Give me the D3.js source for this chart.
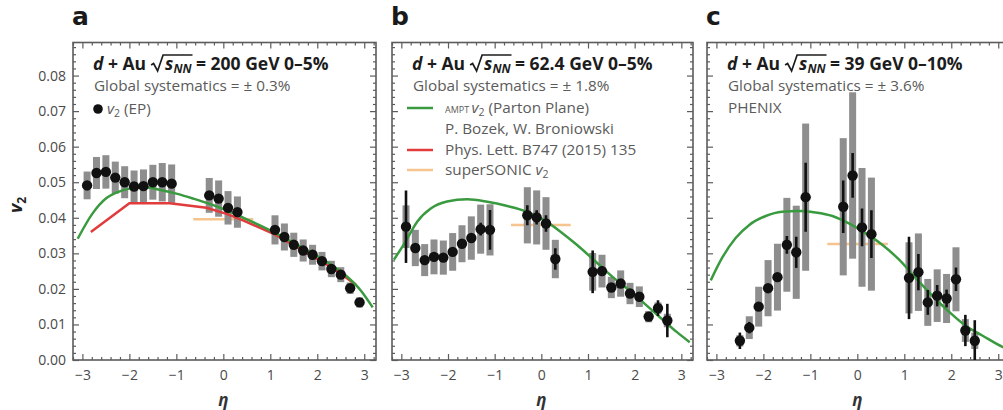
<!DOCTYPE html>
<html>
<head>
<meta charset="utf-8">
<script src="https://cdn.jsdelivr.net/npm/d3@7"></script>
<style>
  body { margin: 0; background: #fff; }
  svg { display: block; font-family: "Open Sans", "Noto Sans", sans-serif; }
</style>
</head>
<body>
<svg id="chart" width="1003" height="410"></svg>
<script>
// ---- d+Au 200 GeV, 0-5% ----
const etaA = [-2.9,-2.7,-2.5,-2.3,-2.1,-1.9,-1.7,-1.5,-1.3,-1.1,-0.3,-0.1,0.1,0.3,1.1,1.3,1.5,1.7,1.9,2.1,2.3,2.5,2.7,2.9];
const v2A = [0.0491,0.0526,0.0529,0.0513,0.0500,0.0488,0.0489,0.0500,0.0500,0.0496,0.0463,0.0454,0.0428,0.0416,0.0366,0.0346,0.0324,0.0308,0.0296,0.0278,0.0256,0.0240,0.0202,0.0162];
const statA = [0.0008,0.0008,0.0008,0.0008,0.0008,0.0008,0.0008,0.0008,0.0008,0.0008,0.0008,0.0008,0.0008,0.0008,0.0006,0.0006,0.0006,0.0006,0.0006,0.0006,0.0006,0.0006,0.0006,0.0008];
const sysA = [0.0039,0.0045,0.0047,0.0045,0.0045,0.0045,0.0047,0.0049,0.0054,0.0054,0.0049,0.0051,0.0047,0.0044,0.0041,0.0038,0.0034,0.0031,0.0028,0.0026,0.0023,0.0021,0.0016,0.0014];
const amptEtaA = [-3.1,-2.79,-2.5,-2.25,-2.0,-1.64,-1.36,-1.0,-0.64,-0.29,0.07,0.43,0.79,1.14,1.5,1.86,2.21,2.57,2.93,3.18];
const amptV2A = [0.0341,0.0411,0.0454,0.0472,0.0482,0.0485,0.0479,0.0468,0.0454,0.0439,0.0421,0.0400,0.0378,0.0355,0.0329,0.0303,0.0275,0.0242,0.0195,0.0148];
const bozekEtaA = [-2.82,-2.0,-1.14,-0.36,0.07,0.43,1.07,1.5,1.93,2.36,2.82];
const bozekV2A = [0.0360,0.0441,0.0441,0.0428,0.0411,0.0392,0.0355,0.0322,0.0289,0.0256,0.0212];
const sonicEtaA = [-0.64,0.64];
const sonicV2A = [0.0396,0.0396];

// ---- d+Au 62.4 GeV, 0-5% ----
const etaB = [-2.9,-2.7,-2.5,-2.3,-2.1,-1.9,-1.7,-1.5,-1.3,-1.1,-0.3,-0.1,0.1,0.3,1.1,1.3,1.5,1.7,1.9,2.1,2.3,2.5,2.7];
const v2B = [0.0375,0.0315,0.0281,0.0290,0.0288,0.0304,0.0327,0.0343,0.0368,0.0366,0.0407,0.0401,0.0384,0.0284,0.0248,0.0250,0.0204,0.0215,0.0187,0.0178,0.0122,0.0146,0.0111];
const statB = [0.0102,0.0014,0.0010,0.0010,0.0010,0.0010,0.0010,0.0012,0.0018,0.0056,0.0028,0.0020,0.0023,0.0030,0.0060,0.0014,0.0010,0.0010,0.0010,0.0010,0.0012,0.0022,0.0047];
const sysB = [0.0060,0.0051,0.0045,0.0049,0.0048,0.0053,0.0052,0.0061,0.0069,0.0072,0.0079,0.0076,0.0074,0.0054,0.0053,0.0046,0.0030,0.0037,0.0030,0.0029,0.0016,0.0016,0.0019];
const amptEtaB = [-3.16,-2.91,-2.66,-2.37,-2.02,-1.59,-1.16,-0.73,-0.31,0.05,0.41,0.76,1.12,1.55,1.9,2.26,2.62,2.9,3.18];
const amptV2B = [0.0282,0.0333,0.0389,0.0426,0.0446,0.0452,0.0445,0.0433,0.0417,0.0394,0.0361,0.0324,0.0282,0.0231,0.0194,0.0153,0.0111,0.0079,0.0050];
const sonicEtaB = [-0.65,0.63];
const sonicV2B = [0.0380,0.0380];

// ---- d+Au 39 GeV, 0-10% ----
const etaC = [-2.5,-2.3,-2.1,-1.9,-1.7,-1.5,-1.3,-1.1,-0.3,-0.1,0.1,0.3,1.1,1.3,1.5,1.7,1.9,2.1,2.3,2.5];
const v2C = [0.0054,0.0091,0.0150,0.0202,0.0233,0.0324,0.0303,0.0458,0.0431,0.0519,0.0373,0.0354,0.0231,0.0247,0.0162,0.0181,0.0173,0.0227,0.0083,0.0054];
const statC = [0.0023,0.0016,0.0010,0.0010,0.0012,0.0025,0.0044,0.0097,0.0074,0.0063,0.0053,0.0067,0.0116,0.0051,0.0035,0.0030,0.0025,0.0033,0.0044,0.0058];
const sysC = [0.0016,0.0032,0.0056,0.0079,0.0094,0.0132,0.0131,0.0207,0.0193,0.0234,0.0167,0.0159,0.0100,0.0109,0.0066,0.0074,0.0069,0.0090,0.0032,0.0023];
const amptEtaC = [-3.12,-2.87,-2.59,-2.3,-1.95,-1.6,-1.24,-0.89,-0.53,-0.18,0.18,0.53,0.89,1.24,1.6,1.95,2.3,2.66,3.09,3.3];
const amptV2C = [0.0224,0.0289,0.0343,0.0380,0.0405,0.0417,0.0419,0.0415,0.0405,0.0384,0.0356,0.0324,0.0282,0.0231,0.0180,0.0136,0.0097,0.0069,0.0037,0.0026];
const sonicEtaC = [-0.64,0.65];
const sonicV2C = [0.0326,0.0326];

// axis ticks
const etaTicks = [-3,-2,-1,0,1,2,3];
const v2Ticks = [0,0.01,0.02,0.03,0.04,0.05,0.06,0.07,0.08];

const GREEN = "#3a9a3f", RED = "#e23b3b", ORANGE = "#f6c48e", GRAY = "#8e8e8e";
const FRAME = "#5c5c5c", TXT = "#5b5b5b";
const FS = 15.3;      // annotation text size
const HFS = 17.5;     // header size

const svg = d3.select("#chart");
const top0 = 42.5, bot0 = 360;
const y = d3.scaleLinear().domain([0, 0.0893]).range([bot0, top0]);

const panels = [
  { label: "a", x0: 73, x1: 376, energy: "200", cent: "0–5%", syst: "± 0.3%",
    eta: etaA, v2: v2A, stat: statA, sys: sysA,
    ampt: d3.zip(amptEtaA, amptV2A), bozek: d3.zip(bozekEtaA, bozekV2A), sonic: d3.zip(sonicEtaA, sonicV2A) },
  { label: "b", x0: 392, x1: 693, energy: "62.4", cent: "0–5%", syst: "± 1.8%",
    eta: etaB, v2: v2B, stat: statB, sys: sysB,
    ampt: d3.zip(amptEtaB, amptV2B), bozek: null, sonic: d3.zip(sonicEtaB, sonicV2B) },
  { label: "c", x0: 707, x1: 1010, energy: "39", cent: "0–10%", syst: "± 3.6%",
    eta: etaC, v2: v2C, stat: statC, sys: sysC,
    ampt: d3.zip(amptEtaC, amptV2C), bozek: null, sonic: d3.zip(sonicEtaC, sonicV2C) }
];

function minorRange(lo, hi, step) {
  return d3.range(Math.round(lo / step), Math.round(hi / step) + 1).map(i => +(i * step).toFixed(6));
}

// text with italic v and subscript 2
function addV2(t, size) {
  t.append("tspan").attr("font-style", "italic").text("v");
  t.append("tspan").attr("font-size", size).attr("dy", 3).text("2");
  return t.append("tspan").attr("dy", -3);
}

panels.forEach((p, i) => {
  const x = d3.scaleLinear().domain([-3.2, 3.25]).range([p.x0, p.x1]);
  const g = svg.append("g");
  const clipId = "clip" + i;
  svg.append("clipPath").attr("id", clipId)
    .append("rect").attr("x", p.x0).attr("y", top0).attr("width", p.x1 - p.x0).attr("height", bot0 - top0);

  // panel letter
  g.append("text").attr("x", p.x0 - 1).attr("y", 25)
    .attr("font-family", "'DejaVu Sans', sans-serif")
    .attr("font-size", 25).attr("font-weight", 700).attr("fill", "#1a1a1a").text(p.label);

  // frame
  g.append("rect").attr("x", p.x0).attr("y", top0).attr("width", p.x1 - p.x0).attr("height", bot0 - top0)
    .attr("fill", "none").attr("stroke", FRAME).attr("stroke-width", 1.6);

  // ticks on all four sides, pointing inward
  const xMinor = minorRange(-3.2, 3.2, 0.2).filter(d => Math.abs(d - Math.round(d)) > 1e-6);
  const yMinor = minorRange(0, 0.088, 0.002).filter(d => Math.abs(d * 100 - Math.round(d * 100)) > 1e-6);
  const axes = [
    [d3.axisBottom(x).tickValues(etaTicks).tickSize(-6).tickPadding(10).tickFormat(d3.format("d")), `translate(0,${bot0})`],
    [d3.axisBottom(x).tickValues(xMinor).tickSize(-3).tickFormat(""), `translate(0,${bot0})`],
    [d3.axisTop(x).tickValues(etaTicks).tickSize(-6).tickFormat(""), `translate(0,${top0})`],
    [d3.axisTop(x).tickValues(xMinor).tickSize(-3).tickFormat(""), `translate(0,${top0})`],
    [d3.axisLeft(y).tickValues(v2Ticks).tickSize(-6).tickPadding(7).tickFormat(i === 0 ? d3.format(".2f") : ""), `translate(${p.x0},0)`],
    [d3.axisLeft(y).tickValues(yMinor).tickSize(-3).tickFormat(""), `translate(${p.x0},0)`],
    [d3.axisRight(y).tickValues(v2Ticks).tickSize(-6).tickFormat(""), `translate(${p.x1},0)`],
    [d3.axisRight(y).tickValues(yMinor).tickSize(-3).tickFormat(""), `translate(${p.x1},0)`]
  ];
  axes.forEach(([ax, tr]) => {
    const a = g.append("g").attr("transform", tr).call(ax.tickSizeOuter(0));
    a.select(".domain").remove();
    a.selectAll("line").attr("stroke", FRAME).attr("stroke-width", 1.2);
    a.selectAll("text").attr("fill", "#4a4a4a").attr("font-size", 14)
      .attr("font-family", "'Open Sans', sans-serif");
  });

  // eta axis title
  g.append("text").attr("x", x(0)).attr("y", 406).attr("text-anchor", "middle")
    .attr("font-size", 17).attr("font-style", "italic").attr("font-weight", 700)
    .attr("fill", "#333").text("η");

  const plot = g.append("g").attr("clip-path", `url(#${clipId})`);
  const line = d3.line().x(d => x(d[0])).y(d => y(d[1]));

  // superSONIC band (under the systematic boxes)
  plot.append("path").datum(p.sonic).attr("d", line)
    .attr("fill", "none").attr("stroke", ORANGE).attr("stroke-width", 2.5);

  // systematic uncertainties
  const pts = p.eta.map((e, k) => ({ eta: e, v: p.v2[k], st: p.stat[k], sy: p.sys[k] }));
  plot.selectAll("rect.sys").data(pts).join("rect").attr("class", "sys")
    .attr("x", d => x(d.eta) - 3.5).attr("width", 7)
    .attr("y", d => y(d.v + d.sy)).attr("height", d => y(d.v - d.sy) - y(d.v + d.sy))
    .attr("fill", GRAY);

  // model curves
  if (p.bozek) {
    plot.append("path").datum(p.bozek).attr("d", line)
      .attr("fill", "none").attr("stroke", RED).attr("stroke-width", 2.5);
  }
  plot.append("path").datum(p.ampt).attr("d", line.curve(d3.curveMonotoneX))
    .attr("fill", "none").attr("stroke", GREEN).attr("stroke-width", 2.5);

  // statistical errors and points
  plot.selectAll("line.stat").data(pts).join("line").attr("class", "stat")
    .attr("x1", d => x(d.eta)).attr("x2", d => x(d.eta))
    .attr("y1", d => y(d.v + d.st)).attr("y2", d => y(d.v - d.st))
    .attr("stroke", "#111").attr("stroke-width", 2.6);
  plot.selectAll("circle.pt").data(pts).join("circle").attr("class", "pt")
    .attr("cx", d => x(d.eta)).attr("cy", d => y(d.v)).attr("r", 5.2).attr("fill", "#111");

  // header: d + Au sqrt(s_NN) = E GeV centrality
  const hx = p.x0 + 20, hy = 70;
  const h = g.append("text").attr("x", hx).attr("y", hy).attr("font-size", HFS)
    .attr("font-weight", 700).attr("fill", "#1c1c1c");
  h.append("tspan").attr("font-style", "italic").text("d");
  h.append("tspan").text(" + Au");
  h.append("tspan").attr("dx", 19).attr("font-style", "italic").text("s");
  h.append("tspan").attr("font-style", "italic").attr("font-size", 12).attr("dy", 3).text("NN");
  h.append("tspan").attr("dy", -3).text(` = ${p.energy} GeV ${p.cent}`);
  const hn = h.node();
  const sPos = hn.getStartPositionOfChar(6).x;
  const nEnd = hn.getEndPositionOfChar(8).x;
  g.append("path")
    .attr("d", `M${sPos - 14},${hy - 5} L${sPos - 11.5},${hy - 6.5} L${sPos - 7.5},${hy + 1} L${sPos - 2},${hy - 15} L${nEnd + 1},${hy - 15}`)
    .attr("fill", "none").attr("stroke", "#1c1c1c").attr("stroke-width", 1.7);

  g.append("text").attr("x", hx + 1).attr("y", 91).attr("font-size", FS).attr("fill", TXT)
    .text(`Global systematics = ${p.syst}`);

  if (i === 0) {
    g.append("circle").attr("cx", hx + 5).attr("cy", 109).attr("r", 4.8).attr("fill", "#111");
    const t = g.append("text").attr("x", hx + 14).attr("y", 114).attr("font-size", FS).attr("fill", TXT);
    addV2(t, 10.5).text(" (EP)");
  }
  if (i === 1) {
    const lx = p.x0 + 15, tx = p.x0 + 53;
    const rows = [[108, GREEN], [150, RED], [170, ORANGE]];
    rows.forEach(([ry, c]) => g.append("line").attr("x1", lx).attr("x2", lx + 26).attr("y1", ry).attr("y2", ry)
      .attr("stroke", c).attr("stroke-width", 2.5));
    const t1 = g.append("text").attr("x", tx).attr("y", 113).attr("font-size", FS).attr("fill", TXT);
    t1.append("tspan").attr("font-size", 9).text("AMPT ");
    addV2(t1, 10.5).text(" (Parton Plane)");
    g.append("text").attr("x", tx).attr("y", 134).attr("font-size", FS).attr("fill", TXT)
      .text("P. Bozek, W. Broniowski");
    g.append("text").attr("x", tx).attr("y", 155).attr("font-size", FS).attr("fill", TXT)
      .text("Phys. Lett. B747 (2015) 135");
    const t4 = g.append("text").attr("x", tx).attr("y", 175).attr("font-size", FS).attr("fill", TXT);
    t4.append("tspan").text("superSONIC ");
    addV2(t4, 10.5);
  }
  if (i === 2) {
    g.append("text").attr("x", hx + 1).attr("y", 113).attr("font-size", FS).attr("fill", TXT).text("PHENIX");
  }
});

// v2 axis title
const yt = svg.append("text").attr("transform", "translate(22,205) rotate(-90)")
  .attr("text-anchor", "middle").attr("font-size", 18).attr("font-weight", 700).attr("fill", "#222");
yt.append("tspan").attr("font-style", "italic").text("v");
yt.append("tspan").attr("font-size", 12).attr("dy", 4).text("2");
</script>
</body>
</html>
